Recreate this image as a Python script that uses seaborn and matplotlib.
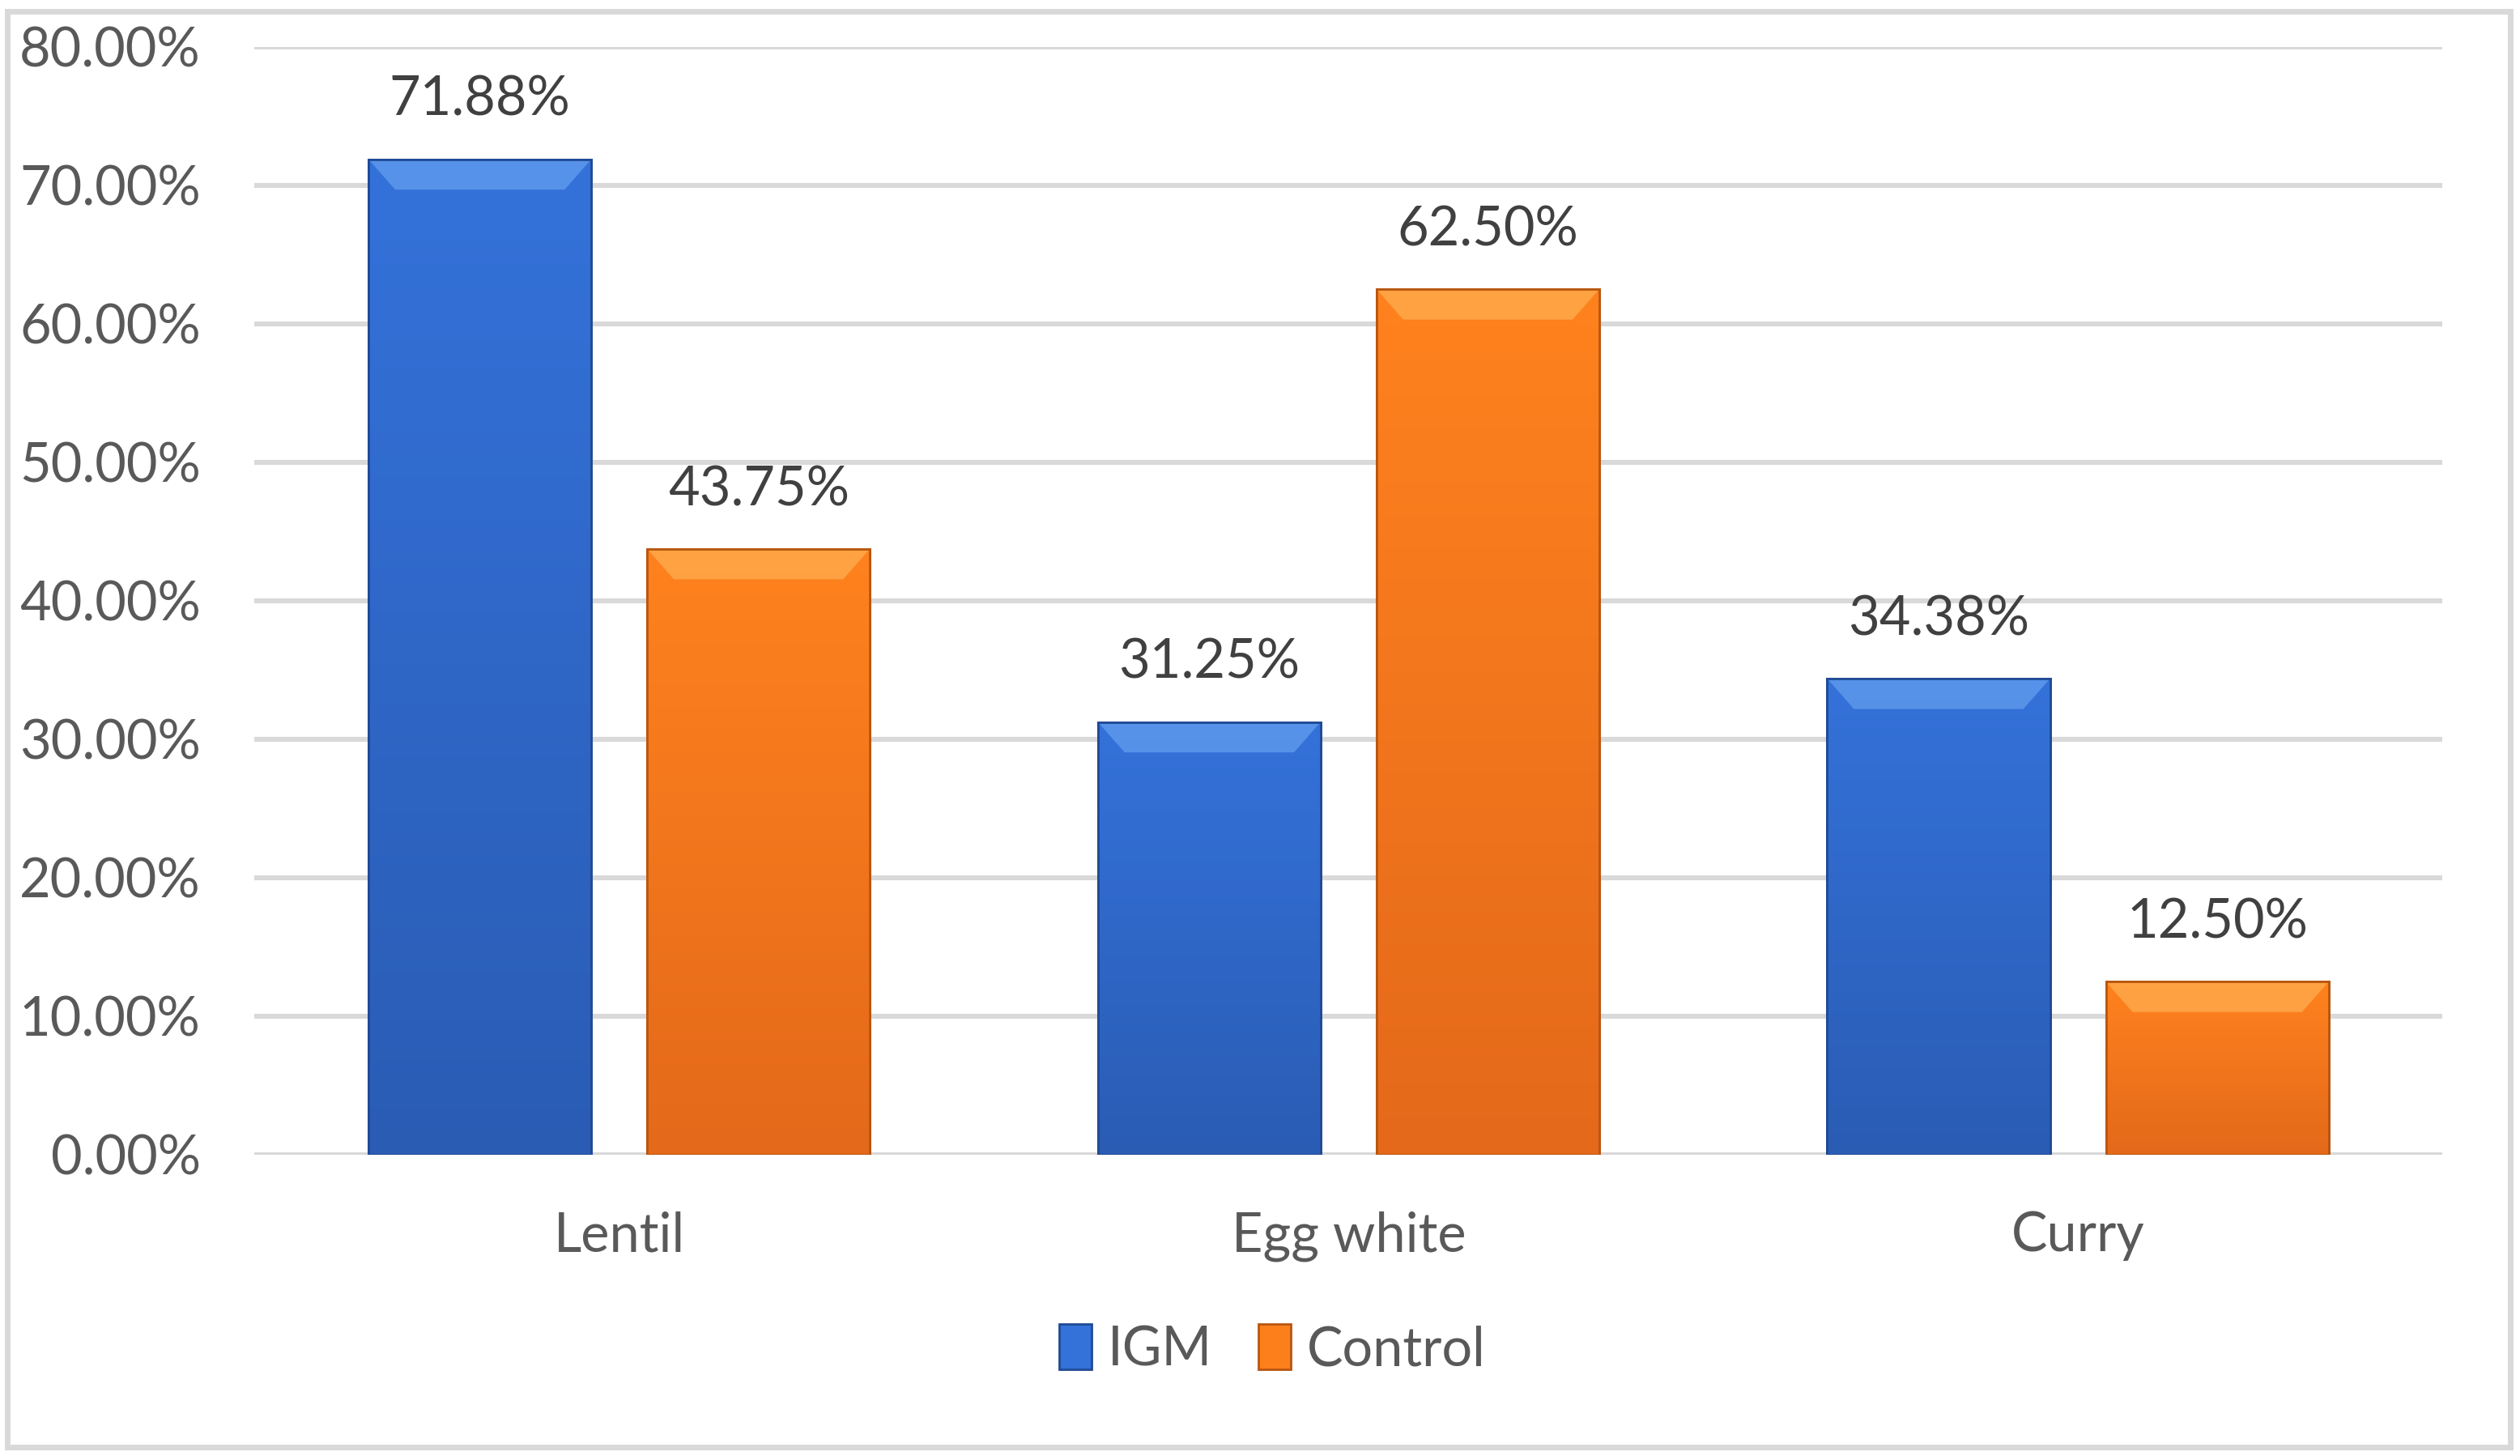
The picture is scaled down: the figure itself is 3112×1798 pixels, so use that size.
"""Grouped bar chart: IGM vs Control by food item."""

import matplotlib

matplotlib.use("Agg")

import matplotlib.pyplot as plt
import numpy as np
import pandas as pd
import seaborn as sns
from matplotlib.colors import LinearSegmentedColormap
from matplotlib.patches import Patch, Polygon, Rectangle
from matplotlib.ticker import FuncFormatter

categories = ["Lentil", "Egg white", "Curry"]
groups = ["IGM", "Control"]
igm_values = [71.88, 31.25, 34.38]
control_values = [43.75, 62.50, 12.50]
y_ticks = [0, 10, 20, 30, 40, 50, 60, 70, 80]

BLUE = "#3471d9"
ORANGE = "#fd7f1c"
TEXT = "#595959"
LABEL = "#404040"
GRID = "#d9d9d9"

# long-form table for seaborn
df = pd.DataFrame(
    {
        "food": categories * 2,
        "group": [groups[0]] * len(categories) + [groups[1]] * len(categories),
        "value": igm_values + control_values,
    }
)

sns.set_theme(style="white")
plt.rcParams["font.family"] = ["Lato", "DejaVu Sans"]

fig = plt.figure(figsize=(15.56, 8.99), dpi=200)
ax = fig.add_axes([0.101, 0.2069, 0.8683, 0.761])

sns.barplot(
    data=df,
    x="food",
    y="value",
    hue="group",
    order=categories,
    hue_order=groups,
    palette={"IGM": BLUE, "Control": ORANGE},
    width=0.764,
    gap=0.2,
    legend=False,
    ax=ax,
    zorder=3,
)

gradients = {
    BLUE: LinearSegmentedColormap.from_list("b", ["#2a5cb4", "#3472da"]),
    ORANGE: LinearSegmentedColormap.from_list("o", ["#e4691a", "#ff821e"]),
}
bevel = {BLUE: "#6aa4f2", ORANGE: "#ffb457"}
edge = {BLUE: "#1f4a94", ORANGE: "#b8560f"}

# bevelled look: vertical gradient + light top band
for container, color in zip(ax.containers, [BLUE, ORANGE]):
    for bar in container:
        x0, y0 = bar.get_x(), bar.get_y()
        w, h = bar.get_width(), bar.get_height()
        bar.set_edgecolor(edge[color])
        bar.set_linewidth(1.0)
        grad = np.linspace(0, 1, 256).reshape(-1, 1)
        im = ax.imshow(
            grad,
            cmap=gradients[color],
            aspect="auto",
            origin="lower",
            extent=(x0, x0 + w, y0, y0 + h),
            zorder=3.5,
        )
        im.set_clip_path(bar)
        b = 2.2
        inset = w * 0.12
        top = Polygon(
            [
                (x0, y0 + h),
                (x0 + w, y0 + h),
                (x0 + w - inset, y0 + h - b),
                (x0 + inset, y0 + h - b),
            ],
            closed=True,
            facecolor=bevel[color],
            edgecolor="none",
            alpha=0.65,
            zorder=4,
        )
        ax.add_patch(top)
        ax.add_patch(
            Rectangle((x0, y0), w, h, facecolor="none",
                      edgecolor=edge[color], linewidth=1.0, zorder=4.5)
        )

for container in ax.containers:
    ax.bar_label(
        container,
        labels=[f"{v:.2f}%" for v in container.datavalues],
        padding=15,
        fontsize=24,
        color=LABEL,
    )

ax.set_xlim(-0.5, 2.5)
ax.set_ylim(0, 80)
ax.set_yticks(y_ticks)
ax.yaxis.set_major_formatter(FuncFormatter(lambda v, _: f"{v:.2f}%"))
ax.set_xlabel("")
ax.set_ylabel("")
ax.tick_params(axis="y", length=0, pad=24, labelsize=24, labelcolor=TEXT)
ax.tick_params(axis="x", length=0, pad=25, labelsize=24, labelcolor=TEXT)
ax.yaxis.grid(True, color=GRID, linewidth=2.2, zorder=0)
ax.set_axisbelow(True)
for side in ax.spines.values():
    side.set_visible(False)

handles = [
    Patch(facecolor=BLUE, edgecolor=edge[BLUE], label="IGM"),
    Patch(facecolor=ORANGE, edgecolor=edge[ORANGE], label="Control"),
]
fig.legend(
    handles=handles,
    loc="center",
    bbox_to_anchor=(0.505, 0.073),
    ncol=2,
    frameon=False,
    fontsize=24,
    labelcolor=TEXT,
    handlelength=0.6,
    handleheight=0.9,
    handletextpad=0.3,
    columnspacing=0.85,
)

# outer chart border
fig.add_artist(
    Rectangle((0.003, 0.006), 0.993, 0.986, transform=fig.transFigure,
              facecolor="none", edgecolor=GRID, linewidth=2.5)
)

fig.savefig("out.png", dpi=200)
